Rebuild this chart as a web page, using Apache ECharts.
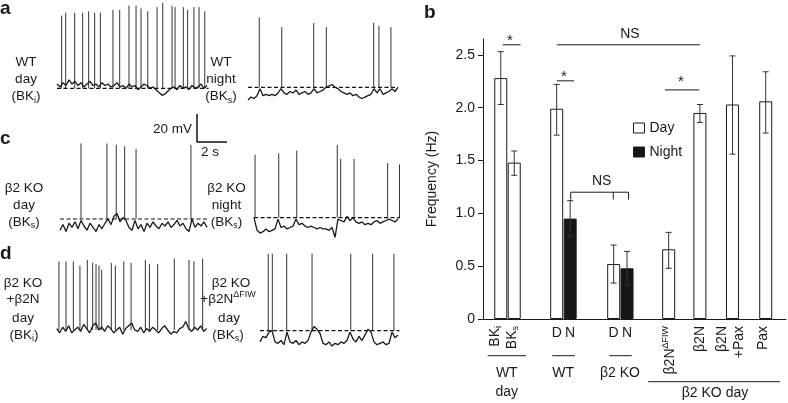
<!DOCTYPE html>
<html><head><meta charset="utf-8">
<script src="https://cdn.jsdelivr.net/npm/echarts@6/dist/echarts.min.js"></script>
<style>html,body{margin:0;padding:0;background:#fff}#c{width:788px;height:403px}</style>
</head><body><div id="c"></div>
<script>
// ================= DATA =================
// ---- panel b: bar chart ----
const barCategories = ['BKi', 'BKs', 'WT D', 'WT N', 'β2 KO D', 'β2 KO N', 'β2NΔFIW', 'β2N', 'β2N+Pax', 'Pax'];
const barGroup   = ['Day', 'Day', 'Day', 'Night', 'Day', 'Night', 'Day', 'Day', 'Day', 'Day'];
const barMeans   = [2.28, 1.48, 1.99, 0.95, 0.52, 0.48, 0.66, 1.95, 2.03, 2.06];
const barErrLow  = [2.03, 1.36, 1.74, 0.78, 0.34, 0.32, 0.48, 1.86, 1.56, 1.76];
const barErrHigh = [2.53, 1.59, 2.22, 1.12, 0.70, 0.64, 0.82, 2.03, 2.49, 2.34];
const yTicks      = [0, 0.5, 1.0, 1.5, 2.0, 2.5];
const yTickLabels = ['0', '0.5', '1.0', '1.5', '2.0', '2.5'];

// ---- panels a, c, d: voltage traces (mV relative to dashed threshold, sampled every 0.2 s) ----
const aDayBase   = [3,1,4,2,6,3,5,2,4,1,3,5,2,3,1,4,2,3,1,2,4,1,2,0,3,1,2,-1,1,3,2,0,1,-1,-3,-5,-4,-2,0,1,-1,2,0,1,-1,2,0,1,3,0,2];
const aDaySpikeT = [0.31,0.58,1.18,1.71,2.11,2.51,2.89,3.73,4.18,4.80,5.27,5.60,6.05,6.67,7.05,7.67,7.87,8.42,8.71,9.13,9.47,9.85];
const aDaySpikeV = [52,54,54,54,55,54,54,56,56,59,59,57,55,58,61,59,58,58,56,58,58,55];

const aNightBase   = [-9,-7,-8,-6,-1,-6,-5,-6,-5,-6,-4,-1,-4,-5,-3,-4,-2,-5,-4,-3,-5,-4,-1,-4,-3,-2,0,1,2,0,-1,-3,-4,-5,-4,-6,-5,-7,-8,-7,-6,-5,-1,-4,-1,-5,-4,-3,-1,-3,0];
const aNightSpikeT = [0.75,2.25,4.38,5.22,8.38,8.73,9.53];
const aNightSpikeV = [50,43,46,43,46,44,43];

const cDayBase   = [-8,-4,-9,-3,-6,-2,-7,-1,-5,-8,-3,-6,-9,-4,-7,-3,0,-4,2,4,-2,1,-1,-6,-8,-1,-7,-4,-9,-3,-6,-2,-5,-7,-3,-5,-2,-6,-4,-1,-5,-3,-7,-9,0,-6,-3,-5,-2,-6];
const cDaySpikeT = [1.40,3.13,3.75,4.31,5.07,8.73];
const cDaySpikeV = [54,54,53,52,50,53];

const cNightBase   = [0,-9,-11,-10,-8,-10,-9,-8,-1,-7,-6,-8,-7,-6,-1,-5,-4,-6,-7,-6,-7,-8,-7,-8,-8,-9,-7,-14,-1,-2,-3,1,-2,0,-3,-4,-3,-5,-4,-5,-3,-2,-4,-3,-2,-1,-2,-3,-1];
const cNightSpikeT = [0.07,1.65,2.85,5.55,5.78,6.67,8.91,9.70];
const cNightSpikeV = [45,46,48,52,42,42,39,38];

const dDayBase   = [1,-2,2,-1,3,-2,0,2,-1,4,1,-2,3,5,0,2,-1,3,1,-2,0,2,-3,1,3,5,0,-1,2,-2,1,-1,2,0,-2,1,3,0,-3,-1,-2,1,2,6,1,-1,2,0,3,-1,1];
const dDaySpikeT = [0.15,0.62,1.11,1.55,2.04,2.40,2.62,2.82,3.00,3.64,3.91,4.47,4.96,5.91,6.18,6.73,7.84,8.82,9.15,9.73];
const dDaySpikeV = [49,49,49,46,50,48,47,46,43,48,46,49,48,50,47,47,51,50,49,51];

const dMutBase   = [-8,-4,-5,-1,0,-8,-9,-7,-10,-1,-8,-9,-7,-10,-8,-9,-7,-1,3,1,-2,-9,-10,-8,-11,-9,-10,-8,-9,-7,-1,-6,-8,-4,-7,-3,1,-1,-8,-10,-9,-8,-10,-9,-1,-5,-3];
const dMutSpikeT = [0.55,0.82,1.78,3.47,6.05,7.51,8.93];
const dMutSpikeV = [55,55,55,55,55,55,55];

const scaleBarMV = 20, scaleBarS = 2;

// ================= LAYOUT / STYLE =================
const FONT = '"Liberation Sans", Arial, Helvetica, sans-serif';
const INK = '#1a1a1a';
const DT = 0.2, PX_PER_S = 15, PX_PER_MV = 1.4, MV_MIN = -15, MV_MAX = 62;
const traceLayout = [
  {base: aDayBase,   st: aDaySpikeT,   sv: aDaySpikeV,   left: 57,   dashY: 88.3,  tMax: 10.1, dashed: true},
  {base: aNightBase, st: aNightSpikeT, sv: aNightSpikeV, left: 248,  dashY: 87.3,  tMax: 10.0, dashed: true},
  {base: cDayBase,   st: cDaySpikeT,   sv: cDaySpikeV,   left: 60,   dashY: 219,   tMax: 9.8,  dashed: true},
  {base: cNightBase, st: cNightSpikeT, sv: cNightSpikeV, left: 254,  dashY: 217.7, tMax: 9.73, dashed: true},
  {base: dDayBase,   st: dDaySpikeT,   sv: dDaySpikeV,   left: 56.7, dashY: 330,   tMax: 10.0, dashed: false},
  {base: dMutBase,   st: dMutSpikeT,   sv: dMutSpikeV,   left: 260,  dashY: 330.7, tMax: 9.3,  dashed: true}
];
// bar x slot positions (in bar-width units along the hidden x axis)
const barSlots = [1.33, 2.34, 5.52, 6.53, 9.79, 10.79, 13.91, 16.25, 18.69, 21.18];
const X_MAX = 22.7;

const RICH = {
  sub: {fontSize: 9, lineHeight: 9, verticalAlign: 'bottom', fontFamily: FONT, fill: INK, color: INK},
  sup: {fontSize: 9, lineHeight: 9, verticalAlign: 'top', fontFamily: FONT, fill: INK, color: INK}
};

const chart = echarts.init(document.getElementById('c'));
const grids = [], xAxes = [], yAxes = [], series = [];

traceLayout.forEach((L, k) => {
  grids.push({left: L.left, top: L.dashY - MV_MAX * PX_PER_MV, width: L.tMax * PX_PER_S,
              height: (MV_MAX - MV_MIN) * PX_PER_MV});
  xAxes.push({type: 'value', gridIndex: k, min: 0, max: L.tMax, show: false});
  yAxes.push({type: 'value', gridIndex: k, min: MV_MIN, max: MV_MAX, show: false});
  series.push({type: 'line', xAxisIndex: k, yAxisIndex: k, data: L.base.map((v, i) => [i * DT, v]),
    symbol: 'none', lineStyle: {color: INK, width: 1.3}, silent: true, animation: false, clip: false, z: 2});
  series.push({type: 'custom', xAxisIndex: k, yAxisIndex: k, data: L.st.map((t, i) => [t, L.sv[i]]),
    renderItem: (p, api) => {
      const a = api.coord([api.value(0), 0]);
      const b = api.coord([api.value(0), api.value(1)]);
      return {type: 'line', shape: {x1: a[0], y1: a[1], x2: b[0], y2: b[1]}, style: {stroke: '#333', lineWidth: 1}};
    }, clip: false, animation: false, silent: true, z: 2});
  if (L.dashed) series.push({type: 'line', xAxisIndex: k, yAxisIndex: k, data: [[0, 0], [L.tMax, 0]],
    symbol: 'none', lineStyle: {color: '#111', width: 1.2, type: [4, 2.5]}, silent: true, animation: false, z: 3});
});

// scale bar grid (index 6)
grids.push({left: 197, top: 114, width: scaleBarS * PX_PER_S, height: scaleBarMV * PX_PER_MV});
xAxes.push({type: 'value', gridIndex: 6, min: 0, max: scaleBarS, show: false});
yAxes.push({type: 'value', gridIndex: 6, min: 0, max: scaleBarMV, show: false});
series.push({type: 'line', xAxisIndex: 6, yAxisIndex: 6, data: [[0, scaleBarMV], [0, 0], [scaleBarS, 0]],
  symbol: 'none', lineStyle: {color: '#111', width: 1.5}, silent: true, animation: false, clip: false});

// bar chart grid (index 7)
grids.push({left: 483, top: 39, right: 2, bottom: 84});
xAxes.push({type: 'value', gridIndex: 7, min: 0, max: X_MAX,
  axisLine: {show: true, onZero: false, lineStyle: {color: INK, width: 1}},
  axisTick: {show: false}, axisLabel: {show: false}, splitLine: {show: false}});
yAxes.push({type: 'value', gridIndex: 7, min: 0, max: 2.65, interval: 0.5,
  axisLine: {show: true, lineStyle: {color: INK, width: 1}},
  axisTick: {show: true, inside: false, length: 5, customValues: yTicks, lineStyle: {color: INK}},
  axisLabel: {customValues: yTicks, formatter: v => { const i = yTicks.indexOf(v); return i >= 0 ? yTickLabels[i] : ''; },
    fontSize: 14, color: INK, fontFamily: FONT, margin: 8},
  splitLine: {show: false},
  name: 'Frequency (Hz)', nameLocation: 'middle', nameGap: 44,
  nameTextStyle: {fontSize: 14, color: INK, fontFamily: FONT}});

['Day', 'Night'].forEach(g => {
  series.push({type: 'bar', name: g, xAxisIndex: 7, yAxisIndex: 7, barWidth: 13, barGap: '-100%',
    data: barMeans.map((v, i) => barGroup[i] === g ? [barSlots[i], v] : null).filter(d => d),
    itemStyle: {color: g === 'Day' ? '#fff' : '#161616', borderColor: INK, borderWidth: 1},
    animation: false, silent: true, z: 2});
});

series.push({type: 'custom', name: 'err', xAxisIndex: 7, yAxisIndex: 7,
  data: barSlots.map((s, i) => [s, barErrLow[i], barErrHigh[i]]),
  encode: {x: 0, y: [1, 2]},
  renderItem: (p, api) => {
    const lo = api.coord([api.value(0), api.value(1)]);
    const hi = api.coord([api.value(0), api.value(2)]);
    const c = 3, st = {stroke: '#333', lineWidth: 1};
    return {type: 'group', children: [
      {type: 'line', shape: {x1: lo[0], y1: lo[1], x2: hi[0], y2: hi[1]}, style: st},
      {type: 'line', shape: {x1: hi[0] - c, y1: hi[1], x2: hi[0] + c, y2: hi[1]}, style: st},
      {type: 'line', shape: {x1: lo[0] - c, y1: lo[1], x2: lo[0] + c, y2: lo[1]}, style: st}
    ]};
  }, clip: false, animation: false, silent: true, z: 4});

// annotations for panel b (significance, axis category labels)
const sigLines = [[1.48, 2.82, 2.595], [5.53, 16.25, 2.595], [5.52, 6.82, 2.254], [13.63, 16.2, 2.168]];
const sigMarks = [['*', 2.02, 2.637], ['NS', 11.01, 2.70], ['*', 6.07, 2.292], ['*', 14.83, 2.249], ['NS', 8.89, 1.307]];
const nsBracket = {x1: 6.57, x2: 10.9, y: 1.20, ticks: [6.57, 9.76, 10.9], yTick: 1.13};
const rotLabels = [['BK{sub|i}', 0.9], ['BK{sub|s}', 2.15], ['β2N{sup|ΔFIW}', 14.0], ['β2N', 16.25], ['β2N\n+Pax', 18.56], ['Pax', 21.0]];
const dnLabels = [['D', 5.52], ['N', 6.53], ['D', 9.79], ['N', 10.79]];
const groupLines = [[0.35, 3.22, 36.7], [5.19, 6.89, 36.7], [9.46, 11.14, 36.7], [12.38, 22.25, 62.7]];
const groupTexts = [['WT', 1.78, 54], ['day', 1.78, 72.7], ['WT', 6.01, 54], ['β2 KO', 10.26, 54], ['β2 KO day', 17.38, 74.3]];

function txt(text, x, y, o) {
  o = o || {};
  return {type: 'text', x: x, y: y, rotation: o.rot || 0,
    style: {text: text, fontSize: o.size || 14, fontFamily: FONT, fontWeight: o.weight || 'normal', fill: INK,
      align: o.align || 'center', textAlign: o.align || 'center', verticalAlign: o.va || 'middle', textVerticalAlign: o.va || 'middle',
      lineHeight: o.lh || 18, rich: RICH}};
}
const lineEl = (x1, y1, x2, y2) => ({type: 'line', shape: {x1, y1, x2, y2}, style: {stroke: INK, lineWidth: 1}});

series.push({type: 'custom', name: 'anno', xAxisIndex: 7, yAxisIndex: 7, data: [[0, 0]],
  renderItem: (p, api) => {
    const ch = [];
    const y0 = api.coord([0, 0])[1];
    const X = s => api.coord([s, 0])[0];
    sigLines.forEach(([a, b, y]) => { const p1 = api.coord([a, y]), p2 = api.coord([b, y]); ch.push(lineEl(p1[0], p1[1], p2[0], p2[1])); });
    sigMarks.forEach(([t, x, y]) => { const q = api.coord([x, y]); ch.push(txt(t, q[0], q[1], {size: t === '*' ? 15 : 14})); });
    const b1 = api.coord([nsBracket.x1, nsBracket.y]), b2 = api.coord([nsBracket.x2, nsBracket.y]);
    ch.push(lineEl(b1[0], b1[1], b2[0], b2[1]));
    nsBracket.ticks.forEach(t => { const u = api.coord([t, nsBracket.y]), d = api.coord([t, nsBracket.yTick]); ch.push(lineEl(u[0], u[1], d[0], d[1])); });
    rotLabels.forEach(([t, s]) => ch.push(txt(t, X(s), y0 + 7, {rot: Math.PI / 2, align: 'right', lh: 17})));
    dnLabels.forEach(([t, s]) => ch.push(txt(t, X(s), y0 + 14.3)));
    groupLines.forEach(([a, b, dy]) => ch.push(lineEl(X(a), y0 + dy, X(b), y0 + dy)));
    groupTexts.forEach(([t, s, dy]) => ch.push(txt(t, X(s), y0 + dy)));
    return {type: 'group', children: ch};
  }, clip: false, animation: false, silent: true, z: 5});

// left panel labels
const leftLabels = [
  ['WT', 26, 62], ['day', 26, 79.5], ['(BK{sub|i})', 26, 96.5],
  ['WT', 221, 62], ['night', 221, 79.5], ['(BK{sub|s})', 221, 96.5],
  ['β2 KO', 24, 188], ['day', 24, 205], ['(BK{sub|s})', 24, 222],
  ['β2 KO', 226.5, 188], ['night', 226.5, 205], ['(BK{sub|s})', 226.5, 222],
  ['β2 KO', 23, 283.5], ['+β2N', 23, 299], ['day', 23, 318], ['(BK{sub|i})', 24, 335],
  ['β2 KO', 231, 283.5], ['+β2N{sup|ΔFIW}', 228, 299], ['day', 229, 318], ['(BK{sub|s})', 228, 335]
];
const graphics = leftLabels.map(([t, x, y]) => txt(t, x, y, {size: 13.5, lh: 17}));
graphics.push(txt('20 mV', 192, 129, {size: 13.5, align: 'right'}));
graphics.push(txt('2 s', 210, 152, {size: 13.5}));
[['a', 0, 9], ['b', 424, 13], ['c', 0, 139], ['d', 0, 254]].forEach(([t, x, y]) =>
  graphics.push(txt(t, x, y, {size: 19, weight: 'bold', align: 'left', lh: 20})));

chart.setOption({
  backgroundColor: '#fff',
  animation: false,
  grid: grids, xAxis: xAxes, yAxis: yAxes, series: series,
  legend: {data: ['Day', 'Night'], left: 633, top: 121, padding: 0, orient: 'vertical', icon: 'rect',
    itemWidth: 11, itemHeight: 10, itemGap: 10, selectedMode: false,
    itemStyle: {borderWidth: 1, borderColor: INK},
    textStyle: {fontSize: 14, color: INK, fontFamily: FONT}},
  graphic: graphics
});
</script></body></html>
